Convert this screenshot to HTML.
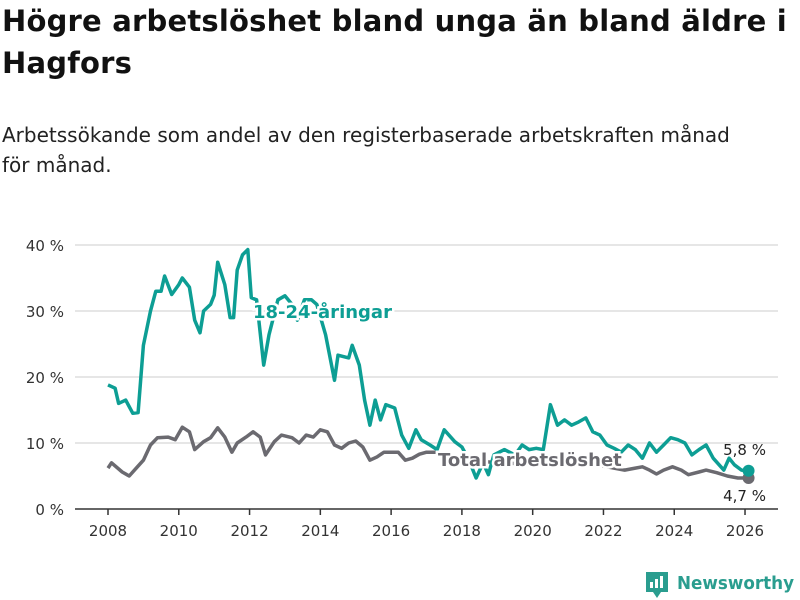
<!DOCTYPE html>
<html><head><meta charset="utf-8"><style>
body{margin:0;width:800px;height:600px;background:#fff;font-family:"DejaVu Sans","Liberation Sans",sans-serif;overflow:hidden;position:relative}
h1{position:absolute;left:2px;top:0;margin:0;font-size:29px;line-height:42px;font-weight:bold;color:#111;width:798px;letter-spacing:0.2px}
p{position:absolute;left:2px;top:120px;margin:0;font-size:20px;line-height:30px;color:#222;width:798px;white-space:nowrap}
svg{position:absolute;left:0;top:0}
</style></head><body>
<h1>Högre arbetslöshet bland unga än bland äldre i Hagfors</h1>
<p>Arbetssökande som andel av den registerbaserade arbetskraften månad<br>för månad.</p>
<svg id="chart" width="800" height="600"></svg>
<script>
const yTicks=[0,10,20,30,40];
const xTicks=[2008,2010,2012,2014,2016,2018,2020,2022,2024,2026];
const youthDates=[2008.0,2008.2,2008.3,2008.5,2008.7,2008.85,2009.0,2009.2,2009.35,2009.5,2009.6,2009.8,2010.0,2010.1,2010.3,2010.45,2010.6,2010.7,2010.9,2011.0,2011.1,2011.3,2011.45,2011.55,2011.65,2011.8,2011.95,2012.05,2012.2,2012.4,2012.55,2012.8,2013.0,2013.2,2013.35,2013.55,2013.75,2013.9,2014.15,2014.4,2014.5,2014.8,2014.9,2015.1,2015.25,2015.4,2015.55,2015.7,2015.85,2016.1,2016.3,2016.5,2016.7,2016.85,2017.1,2017.3,2017.5,2017.8,2018.0,2018.2,2018.4,2018.6,2018.75,2018.9,2019.2,2019.5,2019.7,2019.9,2020.1,2020.3,2020.5,2020.7,2020.9,2021.1,2021.3,2021.5,2021.7,2021.9,2022.1,2022.3,2022.5,2022.7,2022.9,2023.1,2023.3,2023.5,2023.7,2023.9,2024.1,2024.3,2024.5,2024.7,2024.9,2025.1,2025.4,2025.55,2025.7,2025.9,2026.1];
const youthValues=[18.8,18.3,16,16.5,14.5,14.6,24.8,30,33,33,35.3,32.5,34,35,33.6,28.6,26.7,30,31,32.4,37.4,34,29,29,36.2,38.5,39.3,32,31.7,21.8,26.4,31.7,32.3,31,28.6,31.7,31.7,31,26.4,19.5,23.3,22.9,24.8,21.8,16.5,12.7,16.5,13.5,15.8,15.3,11.2,9.2,12,10.5,9.7,9,12,10.2,9.4,7.4,4.7,7,5.2,8.2,9,8.2,9.7,9,9.2,9,15.8,12.7,13.5,12.7,13.2,13.8,11.7,11.2,9.7,9.2,8.6,9.7,9,7.7,10,8.6,9.7,10.8,10.5,10,8.2,9,9.7,7.7,5.9,7.7,6.7,5.9,5.8];
const totalDates=[2008.0,2008.1,2008.4,2008.6,2008.8,2009.0,2009.2,2009.4,2009.7,2009.9,2010.1,2010.3,2010.45,2010.7,2010.9,2011.1,2011.3,2011.5,2011.65,2011.9,2012.1,2012.3,2012.45,2012.7,2012.9,2013.2,2013.4,2013.6,2013.8,2014.0,2014.2,2014.4,2014.6,2014.8,2015.0,2015.2,2015.4,2015.6,2015.8,2016.0,2016.2,2016.4,2016.6,2016.8,2017.0,2017.3,2017.5,2018.0,2019.0,2020.0,2021.0,2022.0,2022.6,2022.9,2023.1,2023.3,2023.5,2023.7,2023.95,2024.2,2024.4,2024.7,2024.9,2025.2,2025.5,2025.8,2026.1];
const totalValues=[6.2,7,5.6,5,6.2,7.4,9.7,10.8,10.9,10.5,12.4,11.7,9,10.2,10.8,12.3,10.9,8.6,10,10.9,11.7,10.9,8.2,10.2,11.2,10.8,10,11.2,10.9,12,11.7,9.7,9.2,10,10.3,9.4,7.4,7.9,8.6,8.6,8.6,7.4,7.7,8.3,8.6,8.6,8.2,7.5,7,6.8,7.5,6.5,5.9,6.2,6.4,5.9,5.3,5.9,6.4,5.9,5.2,5.6,5.9,5.5,5,4.7,4.7];
const svg=document.getElementById('chart');const NS='http://www.w3.org/2000/svg';
const X=y=>108+(y-2008)*35.39, Y=v=>509-v*6.6;
function mk(t,a,p){const e=document.createElementNS(NS,t);for(const k in a)e.setAttribute(k,a[k]);(p||svg).appendChild(e);return e;}
yTicks.forEach(v=>{
 if(v>0){const g=mk('line',{x1:75,x2:778,y1:Y(v),y2:Y(v),stroke:'#ddd','stroke-width':1.5});
 
 }
 const t=mk('text',{x:64,y:Y(v)+6,'text-anchor':'end','font-size':15,fill:'#333'});t.textContent=v+' %';
 
 
});
const ax=mk('line',{x1:75,x2:778,y1:509,y2:509,stroke:'#333','stroke-width':1.5});


xTicks.forEach(y=>{
 mk('line',{x1:X(y),x2:X(y),y1:509,y2:515,stroke:'#333','stroke-width':1.5});
 const t=mk('text',{x:X(y),y:536,'text-anchor':'middle','font-size':15,fill:'#333'});t.textContent=y;
 
 
});
function line(d,v,c,name){const p=mk('path',{d:d.map((x,i)=>(i?'L':'M')+X(x).toFixed(1)+' '+Y(v[i]).toFixed(1)).join(''),fill:'none',stroke:c,'stroke-width':3.5,'stroke-linejoin':'round'});
 
 }
line(totalDates,totalValues,'#6b6a70','total-line');
line(youthDates,youthValues,'#0d9e94','youth-line');
function lbl(x,y,txt,c,name){const t=mk('text',{x:x,y:y,'font-size':18,'font-weight':'bold',fill:c,stroke:'#fff','stroke-width':5,'paint-order':'stroke'});t.textContent=txt;
 
 }
lbl(253,318,'18-24-åringar','#0d9e94','youth-label');
lbl(438,466,'Total arbetslöshet','#6b6a70','total-label');
const lt=totalValues.length-1, ly=youthValues.length-1;
const d1=mk('circle',{cx:X(totalDates[lt]),cy:Y(totalValues[lt]),r:6,fill:'#6b6a70'});


const d2=mk('circle',{cx:X(youthDates[ly]),cy:Y(youthValues[ly]),r:6,fill:'#0d9e94'});


const a=mk('text',{x:766,y:455,'text-anchor':'end','font-size':15,fill:'#222'});a.textContent='5,8 %';


const b=mk('text',{x:766,y:501,'text-anchor':'end','font-size':15,fill:'#222'});b.textContent='4,7 %';


const lg=mk('g',{});


mk('path',{d:'M646 572h22v20h-7l-4 6-4-6h-7z',fill:'#2a9d8f'},lg);
mk('rect',{x:650,y:582,width:3,height:6,fill:'#fff'},lg);mk('rect',{x:655,y:579,width:3,height:9,fill:'#fff'},lg);mk('rect',{x:660,y:576,width:3,height:12,fill:'#fff'},lg);
const lt2=mk('text',{x:677,y:589,'font-size':18,'font-weight':'bold',fill:'#2a9d8f',textLength:117,lengthAdjust:'spacingAndGlyphs'},lg);lt2.textContent='Newsworthy';
</script>
</body></html>
